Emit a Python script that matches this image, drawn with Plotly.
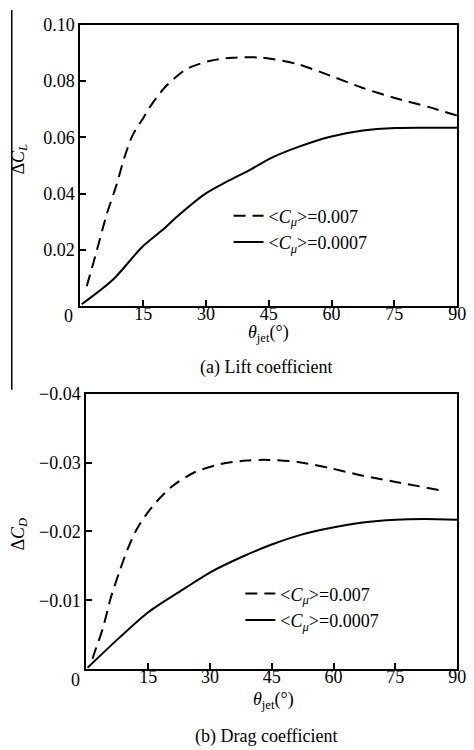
import plotly.graph_objects as go

# ---- data ----
theta_lift_hi = [1.5, 3.5, 6.3, 8.6, 10.5, 12.4, 15.2, 16.7, 20.2, 25.3, 30.8, 36.3, 43.3, 51.9, 59.7, 67.5, 75.3, 83.1, 90.0]
lift_hi =       [0.0070, 0.0175, 0.0327, 0.043, 0.0528, 0.0605, 0.0673, 0.0710, 0.0778, 0.0842, 0.0871, 0.0883, 0.0883, 0.0860, 0.0819, 0.0775, 0.0739, 0.0708, 0.0677]
theta_lift_lo = [0.3, 7.8, 14.8, 19.5, 23.4, 29.7, 35.2, 40.6, 46.1, 51.9, 59.7, 67.5, 75.3, 82.0, 90.0]
lift_lo =       [0.0006, 0.0094, 0.0211, 0.0269, 0.0322, 0.0398, 0.0444, 0.0485, 0.0530, 0.0565, 0.0602, 0.0624, 0.0633, 0.0634, 0.0634]

theta_drag_hi = [1.5, 2.1, 4.0, 6.0, 8.0, 10.0, 12.4, 16.0, 20.7, 26.3, 32.6, 39.0, 44.0, 51.3, 59.2, 67.1, 75.1, 85.8]
drag_hi =       [-0.0015, -0.0026, -0.0059, -0.0105, -0.0141, -0.0174, -0.0205, -0.0236, -0.0265, -0.0286, -0.0298, -0.0303, -0.0304, -0.0301, -0.0292, -0.0281, -0.0272, -0.0260]
theta_drag_lo = [0.3, 7.9, 15.1, 23.8, 30.2, 38.1, 45.0, 52.0, 59.2, 67.1, 75.1, 82.0, 90.0]
drag_lo =       [-0.0002, -0.0045, -0.0083, -0.0117, -0.0141, -0.0164, -0.0181, -0.0195, -0.0205, -0.0213, -0.0217, -0.0218, -0.0217]

x_ticks = [0, 15, 30, 45, 60, 75, 90]
x_ticktext = ["", "15", "30", "45", "60", "75", "90"]
yl_ticks = [0.02, 0.04, 0.06, 0.08, 0.10]
yl_ticktext = ["0.02", "0.04", "0.06", "0.08", "0.10"]
yd_ticks = [-0.01, -0.02, -0.03, -0.04]
yd_ticktext = ["\u22120.01", "\u22120.02", "\u22120.03", "\u22120.04"]

name_hi = "&lt;<i>C</i><sub><i>μ</i></sub>&gt;=0.007"
name_lo = "&lt;<i>C</i><sub><i>μ</i></sub>&gt;=0.0007"

W, H = 474, 750
FONT = "Liberation Serif, Times New Roman, serif"

def px(x):
    return x / W

def py(y):
    return 1 - y / H

fig = go.Figure()
dash = "12px,7px"
line_hi = dict(color="black", width=2, dash=dash, shape="spline", smoothing=0.8)
line_lo = dict(color="black", width=2, shape="spline", smoothing=0.8)
fig.add_trace(go.Scatter(x=theta_lift_hi, y=lift_hi, mode="lines", line=line_hi,
                         name=name_hi, xaxis="x", yaxis="y", legend="legend"))
fig.add_trace(go.Scatter(x=theta_lift_lo, y=lift_lo, mode="lines", line=line_lo,
                         name=name_lo, xaxis="x", yaxis="y", legend="legend"))
fig.add_trace(go.Scatter(x=theta_drag_hi, y=drag_hi, mode="lines", line=line_hi,
                         name=name_hi, xaxis="x2", yaxis="y2", legend="legend2"))
fig.add_trace(go.Scatter(x=theta_drag_lo, y=drag_lo, mode="lines", line=line_lo,
                         name=name_lo, xaxis="x2", yaxis="y2", legend="legend2"))

axcommon = dict(showline=True, linecolor="black", linewidth=2, mirror=True, ticks="inside", ticklen=6,
                tickwidth=1.5, tickcolor="black", showgrid=False, zeroline=False,
                tickfont=dict(family=FONT, size=18, color="black"))
xcommon = dict(axcommon, ticklabeloverflow="allow", ticklabelstandoff=-10)

fig.update_layout(
    width=W, height=H, margin=dict(l=0, r=0, t=0, b=0),
    paper_bgcolor="white", plot_bgcolor="white",
    font=dict(family=FONT, size=18, color="black"),
    xaxis=dict(domain=[px(82), px(466)], anchor="y", range=[0, 90], tickvals=x_ticks, ticktext=x_ticktext, **xcommon),
    yaxis=dict(domain=[py(300), py(15)], anchor="x", range=[0, 0.10], tickvals=yl_ticks, ticktext=yl_ticktext, **axcommon),
    xaxis2=dict(domain=[px(88), px(466)], anchor="y2", range=[0, 90], tickvals=x_ticks, ticktext=x_ticktext, **xcommon),
    yaxis2=dict(domain=[py(668), py(389)], anchor="x2", range=[0, -0.04], tickvals=yd_ticks, ticktext=yd_ticktext, **axcommon),
    legend=dict(x=px(233), y=py(190), xanchor="left", yanchor="top", bgcolor="rgba(0,0,0,0)",
                font=dict(family=FONT, size=18), tracegroupgap=0, itemwidth=30),
    legend2=dict(x=px(245), y=py(573), xanchor="left", yanchor="top", bgcolor="rgba(0,0,0,0)",
                 font=dict(family=FONT, size=18), tracegroupgap=0, itemwidth=30),
    showlegend=True,
)

ann = [
    dict(text="0", x=px(70), y=py(310), xanchor="center", yanchor="middle"),
    dict(text="0", x=px(77), y=py(679), xanchor="center", yanchor="middle"),
    dict(text="Δ<i>C</i><sub><i>L</i></sub>", x=px(20), y=py(151), textangle=-90, xanchor="center", yanchor="middle"),
    dict(text="Δ<i>C</i><sub><i>D</i></sub>", x=px(20), y=py(531), textangle=-90, xanchor="center", yanchor="middle"),
    dict(text="<i>θ</i><sub>jet</sub>(°)", x=px(274), y=py(328), xanchor="center", yanchor="middle"),
    dict(text="<i>θ</i><sub>jet</sub>(°)", x=px(279), y=py(700), xanchor="center", yanchor="middle"),
    dict(text="(a) Lift coefficient", x=px(272), y=py(362), xanchor="center", yanchor="middle"),
    dict(text="(b) Drag coefficient", x=px(272), y=py(736), xanchor="center", yanchor="middle"),
]
for a in ann:
    a.update(xref="paper", yref="paper", showarrow=False, font=dict(family=FONT, size=18, color="black"))
fig.update_layout(annotations=ann)

fig.add_shape(type="line", xref="paper", yref="paper", x0=px(12), x1=px(12), y0=py(0), y1=py(385),
              line=dict(color="black", width=1.5))

fig.write_html("out.html")
